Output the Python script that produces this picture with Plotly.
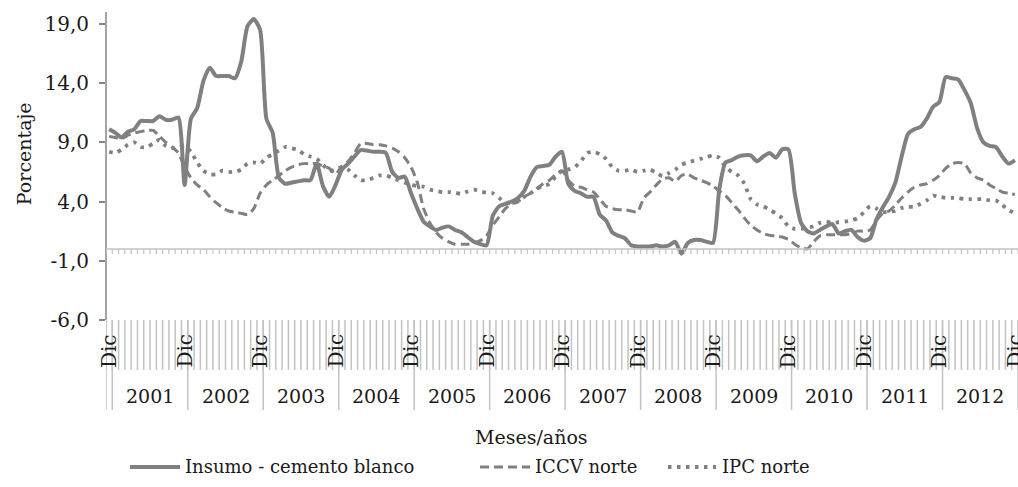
import plotly.graph_objects as go

# ---------------------------------------------------------------------------
# Data: monthly variation (%) from Dic 2000 to Dic 2012
# ---------------------------------------------------------------------------
meses_abrev = ["Ene", "Feb", "Mar", "Abr", "May", "Jun",
               "Jul", "Ago", "Sep", "Oct", "Nov", "Dic"]
anios = list(range(2001, 2013))
periodos = [("Dic", 2000)] + [(m, a) for a in anios for m in meses_abrev]

insumo_cemento = [
    10.1,
    9.8, 9.4, 9.9, 10.1, 10.8, 10.8, 10.8, 11.2, 10.9, 10.9, 11.1, 5.4,
    11.0, 11.9, 14.2, 15.3, 14.6, 14.6, 14.6, 14.4, 15.8, 18.8, 19.4, 18.5,
    11.0, 9.8, 6.0, 5.5, 5.6, 5.7, 5.8, 5.8, 7.2, 5.3, 4.4, 5.4,
    6.7, 7.2, 7.8, 8.35, 8.3, 8.2, 8.2, 8.1, 6.5, 6.0, 6.1, 4.7,
    3.4, 2.3, 1.9, 1.6, 1.8, 1.9, 1.6, 1.4, 1.0, 0.6, 0.4, 0.3,
    2.8, 3.6, 3.8, 4.0, 4.3, 4.9, 6.1, 6.9, 7.0, 7.1, 7.8, 8.2,
    5.5, 4.9, 4.7, 4.4, 4.4, 2.9, 2.4, 1.4, 1.1, 0.9, 0.3, 0.2,
    0.2, 0.2, 0.3, 0.2, 0.3, 0.6, -0.4, 0.5, 0.75, 0.75, 0.6, 0.5,
    5.0, 7.3, 7.5, 7.8, 7.9, 7.9, 7.4, 7.8, 8.1, 7.7, 8.4, 8.4,
    4.7, 2.2, 1.5, 1.3, 1.6, 1.9, 2.1, 1.3, 1.5, 1.6, 1.0, 0.7,
    0.9, 2.5, 3.5, 4.4, 5.6, 7.8, 9.7, 10.1, 10.3, 11.0, 12.0, 12.4,
    14.5, 14.4, 14.3, 13.4, 12.3, 10.2, 9.0, 8.7, 8.6, 7.8, 7.2, 7.5,
]

iccv_norte = [
    9.5,
    9.4, 9.3, 9.6, 9.8, 9.9, 10.0, 10.0, 9.5, 9.0, 8.6, 8.1, 6.9,
    6.0, 5.4, 5.0, 4.4, 3.9, 3.5, 3.2, 3.1, 3.0, 2.9, 3.4, 4.7,
    5.4, 5.8, 6.2, 6.6, 6.9, 7.1, 7.2, 7.2, 7.2, 7.0, 6.8, 6.3,
    7.0, 7.4, 8.1, 8.9, 8.9, 8.8, 8.8, 8.7, 8.5, 8.2, 7.7, 6.9,
    5.6, 3.4, 2.2, 1.4, 0.9, 0.6, 0.4, 0.4, 0.4, 0.5, 0.7, 1.1,
    2.0, 2.7, 3.4, 3.8, 4.0, 4.4, 4.7, 5.1, 5.5, 5.8, 6.3, 6.6,
    5.8, 5.3, 5.2, 5.0, 4.8, 4.2, 3.6, 3.4, 3.3, 3.3, 3.2, 3.1,
    4.3, 4.8, 5.4, 5.9, 6.0, 5.7, 6.2, 6.3, 6.0, 5.8, 5.6, 5.3,
    4.9, 4.5, 3.9, 3.3, 2.6, 2.0, 1.6, 1.3, 1.15, 1.1, 1.0, 0.8,
    0.4, 0.1, 0.0, 0.6, 1.1, 1.2, 1.2, 1.2, 1.2, 1.3, 1.5, 1.5,
    1.6, 2.4, 3.0, 3.2, 3.7, 4.3, 4.8, 5.2, 5.4, 5.5, 5.8, 6.2,
    6.8, 7.2, 7.3, 7.2, 6.4, 6.0, 5.8, 5.4, 5.1, 4.8, 4.7, 4.6,
]

ipc_norte = [
    8.2,
    8.1, 8.4, 8.8, 9.0, 8.6, 8.6, 8.9, 9.2, 8.7, 8.5, 8.5, 8.7,
    8.2, 7.3, 6.6, 6.3, 6.3, 6.6, 6.5, 6.5, 6.7, 7.2, 7.3, 7.2,
    7.7, 8.0, 8.3, 8.6, 8.5, 8.35, 8.0, 7.8, 7.6, 7.1, 6.6, 6.7,
    6.9, 6.7, 6.2, 5.8, 5.8, 6.0, 6.2, 6.2, 6.0, 5.8, 5.6, 5.4,
    5.3, 5.25, 5.0, 4.9, 4.8, 4.8, 4.75, 4.65, 4.85, 5.0, 4.85, 4.75,
    4.7, 4.3, 3.9, 3.85, 4.0, 4.4, 4.7, 5.1, 5.3, 5.5, 6.1, 6.6,
    6.7, 6.9, 7.4, 8.1, 8.2, 8.0, 7.6, 6.9, 6.6, 6.6, 6.7, 6.5,
    6.6, 6.7, 6.4, 6.15, 6.4, 6.7, 7.1, 7.3, 7.45, 7.6, 7.75, 7.9,
    7.7, 6.9, 6.5, 6.2, 5.5, 4.2, 3.75, 3.6, 3.3, 3.0, 2.6, 1.9,
    1.7, 1.7, 1.8, 1.9, 2.2, 2.3, 2.2, 2.25, 2.3, 2.4, 2.6, 3.1,
    3.6, 3.4, 3.1, 3.15, 3.2, 3.45, 3.55, 3.55, 3.8, 4.1, 4.5, 4.4,
    4.3, 4.3, 4.3, 4.2, 4.2, 4.2, 4.2, 4.1, 4.1, 3.7, 3.3, 3.0,
]

y_ticks = [-6, -1, 4, 9, 14, 19]
y_tick_text = [f"{v:.1f}".replace(".", ",") for v in y_ticks]
series = [
    ("Insumo - cemento blanco", insumo_cemento, "solid", 4.0),
    ("ICCV norte", iccv_norte, "9px,5px", 3.0),
    ("IPC norte", ipc_norte, "3.5px,5.5px", 3.8),
]

# ---------------------------------------------------------------------------
# Geometry
# ---------------------------------------------------------------------------
W, H = 1018, 487
M_L, M_T = 106, 12
plot_w, plot_h = W - M_L, H - M_T
n = len(periodos)
x_range = [-0.5, n - 0.5]
y_range = [-20.1, 20.0]
ppx = plot_w / (x_range[1] - x_range[0])
ppy = plot_h / (y_range[1] - y_range[0])
y_base = min(y_ticks)          # bottom of the value axis


def below_base(px):
    """Data-y located px pixels under the bottom of the value axis."""
    return y_base - px / ppy


def x_at(px):
    """Data-x for an absolute horizontal pixel position."""
    return x_range[0] + (px - M_L) / ppx


GRAY = "#808080"
AXIS = "#868686"
LIGHT = "#c3c3c3"
TEXT = "#1a1a1a"
FONT = "DejaVu Serif"
FS = 19

idx = list(range(n))
fig = go.Figure()
for name, vals, dash, width in series:
    fig.add_trace(go.Scatter(
        x=idx, y=vals, mode="lines", name=name, showlegend=False,
        line=dict(color=GRAY, width=width, dash=dash,
                  shape="spline", smoothing=0.6),
    ))

shapes = []
# value axis line (from -6 up to the top)
shapes.append(dict(type="line", xref="paper", yref="y", x0=0, x1=0,
                   y0=y_base, y1=y_range[1],
                   line=dict(color=AXIS, width=1.5)))
# category axis crossing at zero, with a tick on every month boundary
shapes.append(dict(type="line", xref="x", yref="y", x0=x_range[0],
                   x1=x_range[1], y0=0, y1=0,
                   line=dict(color=LIGHT, width=1.5)))
bounds = [k + 0.5 for k in range(-1, n)]
tick_len = 5 / ppy
shapes.append(dict(type="path", xref="x", yref="y",
                   path=" ".join(f"M{b},0 L{b},{-tick_len}" for b in bounds),
                   line=dict(color=LIGHT, width=1.2)))
# month separators of the label band
y_mon = below_base(50)
shapes.append(dict(type="path", xref="x", yref="y",
                   path=" ".join(f"M{b},{y_base} L{b},{y_mon}" for b in bounds),
                   line=dict(color=LIGHT, width=1.5)))
# year separators (after every December)
y_year = below_base(90)
year_bounds = [-0.5] + [i + 0.5 for i, (m, _) in enumerate(periodos) if m == "Dic"]
shapes.append(dict(type="path", xref="x", yref="y",
                   path=" ".join(f"M{b},{y_base} L{b},{y_year}" for b in year_bounds),
                   line=dict(color=LIGHT, width=1.5)))

annotations = []
# "Dic" labels on each December
for i, (m, a) in enumerate(periodos):
    if m == "Dic":
        annotations.append(dict(x=i, y=below_base(31), xref="x", yref="y",
                                text="Dic", textangle=-90, showarrow=False,
                                xanchor="center", yanchor="middle",
                                font=dict(family=FONT, size=20, color=TEXT)))
# year labels centred on their twelve months
for a in anios:
    members = [i for i, (_, aa) in enumerate(periodos) if aa == a]
    annotations.append(dict(x=(members[0] + members[-1]) / 2, y=below_base(76),
                            xref="x", yref="y", text=str(a), showarrow=False,
                            xanchor="center", yanchor="middle",
                            font=dict(family=FONT, size=FS, color=TEXT)))
# axis titles
annotations.append(dict(x=x_at(531), y=below_base(117), xref="x", yref="y",
                        text="Meses/años", showarrow=False,
                        xanchor="center", yanchor="middle",
                        font=dict(family=FONT, size=FS, color=TEXT)))
annotations.append(dict(x=(24 - M_L) / plot_w, y=8.0, xref="paper", yref="y",
                        text="Porcentaje", textangle=-90, showarrow=False,
                        xanchor="center", yanchor="middle",
                        font=dict(family=FONT, size=FS, color=TEXT)))

# legend row
y_leg = below_base(147)
legend_px = [(130, 180, 183), (480, 530, 533), (668, 716, 720)]
for (name, _, dash, width), (p0, p1, pt) in zip(series, legend_px):
    shapes.append(dict(type="line", xref="x", yref="y",
                       x0=x_at(p0), x1=x_at(p1), y0=y_leg, y1=y_leg,
                       line=dict(color=GRAY, width=width, dash=dash)))
    annotations.append(dict(x=x_at(pt), y=y_leg, xref="x", yref="y",
                            text=name, showarrow=False,
                            xanchor="left", yanchor="middle",
                            font=dict(family=FONT, size=18, color=TEXT)))

fig.update_layout(
    width=W, height=H,
    margin=dict(l=M_L, r=0, t=M_T, b=0, pad=0),
    paper_bgcolor="white", plot_bgcolor="white",
    showlegend=False,
    shapes=shapes, annotations=annotations,
    xaxis=dict(range=x_range, visible=False, fixedrange=True),
    yaxis=dict(range=y_range, tickvals=y_ticks, ticktext=y_tick_text,
               showgrid=False, zeroline=False, showline=False,
               ticks="outside", ticklen=6, tickwidth=1.5, tickcolor=AXIS,
               ticklabelstandoff=6,
               tickfont=dict(family=FONT, size=20, color=TEXT)),
)

fig.write_html("out.html")
